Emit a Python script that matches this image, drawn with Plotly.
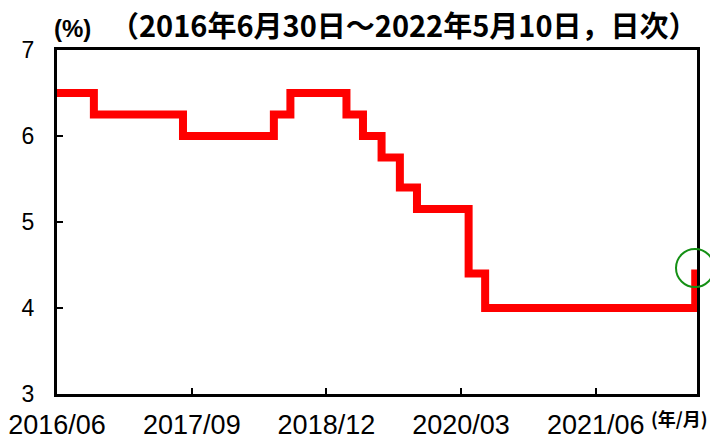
import pandas as pd
import plotly.graph_objects as go

# ---- data ----
change_dates = ["2016-06-01", "2016-10-04", "2017-08-02", "2018-06-06", "2018-08-01",
                "2019-02-07", "2019-04-04", "2019-06-06", "2019-08-07", "2019-10-04",
                "2020-03-27", "2020-05-22", "2022-05-04"]
rates = [6.50, 6.25, 6.00, 6.25, 6.50, 6.25, 6.00, 5.75, 5.40, 5.15, 4.40, 4.00, 4.40]
end_date = "2022-05-10"

tick_dates = ["2016-06-01", "2017-09-01", "2018-12-01", "2020-03-01", "2021-06-01"]
tick_labels = ["2016/06", "2017/09", "2018/12", "2020/03", "2021/06"]
y_ticks = [3, 4, 5, 6, 7]

title_top = "政策金利の推移"
subtitle = "（2016年6月30日～2022年5月10日，日次）"

# ---- build step series ----
xs = change_dates + [end_date]
ys = rates + [rates[-1]]

x_start = pd.Timestamp(change_dates[0])
x_end = pd.Timestamp(end_date)
y_min, y_max = 3, 7

W, H = 710, 437
L, R, T, B = 57, 13, 50, 43
pw, ph = W - L - R, H - T - B

def px_x(p):
    return (p - L) / pw

def px_y(p):
    return (H - B - p) / ph

fig = go.Figure()
fig.add_trace(go.Scatter(
    x=xs, y=ys, mode="lines", line=dict(color="#ff0000", width=8, shape="hv"),
    hoverinfo="skip", showlegend=False,
))

# circle around the last point
last_frac_x = (pd.Timestamp(end_date) - x_start) / (x_end - x_start)
circle_val = 4.465
fig.add_shape(type="circle", xref="paper", yref="paper", xsizemode="pixel", ysizemode="pixel",
              xanchor=float(last_frac_x) - 2 / pw, yanchor=(circle_val - y_min) / (y_max - y_min),
              x0=-19, x1=19, y0=-19, y1=19,
              line=dict(color="#159015", width=2), layer="above")

axis_font = "Liberation Sans, Arial, sans-serif"
cjk_font = "Noto Sans CJK JP, sans-serif"

fig.update_layout(
    width=W, height=H,
    margin=dict(l=L, r=R, t=T, b=B),
    paper_bgcolor="white", plot_bgcolor="white",
    xaxis=dict(
        type="date", range=[x_start, x_end],
        tickvals=tick_dates, ticktext=tick_labels,
        ticks="inside", ticklen=6, tickwidth=2, tickcolor="black",
        showline=True, linecolor="black", linewidth=3, mirror=True,
        showgrid=False, zeroline=False, automargin=False,
        tickfont=dict(family=axis_font, size=27, color="black"),
        ticklabelstandoff=5,
    ),
    yaxis=dict(
        range=[y_min, y_max], tickvals=y_ticks,
        ticks="inside", ticklen=6, tickwidth=2, tickcolor="black",
        showline=True, linecolor="black", linewidth=3, mirror=True,
        showgrid=False, zeroline=False, automargin=False,
        tickfont=dict(family=axis_font, size=23, color="black"),
        ticklabelstandoff=15,
    ),
    annotations=[
        dict(text="(%)", xref="paper", yref="paper", x=px_x(72), y=px_y(28),
             showarrow=False, xanchor="center", yanchor="middle",
             font=dict(family=axis_font, size=24, color="black", weight="bold")),
        dict(text=subtitle, xref="paper", yref="paper", x=px_x(404), y=px_y(24),
             showarrow=False, xanchor="center", yanchor="middle",
             font=dict(family=cjk_font, size=29, color="black", weight="bold")),
        dict(text=title_top, xref="paper", yref="paper", x=px_x(374), y=px_y(-14),
             showarrow=False, xanchor="center", yanchor="middle",
             font=dict(family=cjk_font, size=22, color="black", weight="bold")),
        dict(text="(年/月)", xref="paper", yref="paper", x=px_x(679), y=px_y(418),
             showarrow=False, xanchor="center", yanchor="middle",
             font=dict(family=cjk_font, size=18, color="black", weight="bold")),
    ],
)

fig.write_html("out.html", config={"displayModeBar": False, "staticPlot": True},
               post_script="document.body.style.margin='0';document.body.style.overflow='hidden';")
